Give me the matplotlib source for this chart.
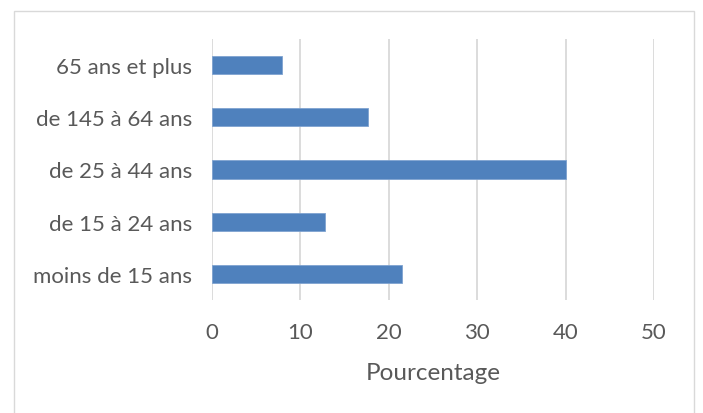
import matplotlib
matplotlib.use('Agg')
import matplotlib.pyplot as plt
from matplotlib.patches import Rectangle

# categories bottom -> top
categories = ['moins de 15 ans', 'de 15 à 24 ans', 'de 25 à 44 ans',
              'de 145 à 64 ans', '65 ans et plus']
values = [21.5, 12.8, 40.1, 17.6, 7.9]
xticks = [0, 10, 20, 30, 40, 50]

W, H = 703, 414
plt.rcParams['font.family'] = ['Lato', 'DejaVu Sans']

fig = plt.figure(figsize=(W / 100, H / 100), dpi=100)
# outer chart frame like excel
fig.patches.append(Rectangle((13.5 / W, -0.1), (694 - 13.5) / W, 1.1 - 12 / H,
                             transform=fig.transFigure, fill=False,
                             edgecolor='#D9D9D9', linewidth=1))

ax = fig.add_axes([212 / W, (H - 301) / H, (654 - 212) / W, (301 - 40) / H])
ax.barh(range(len(categories)), values, height=0.345, color='#4F81BD',
        edgecolor='#7FA3D0', linewidth=0.6, zorder=3)
ax.set_xlim(0, 50)
ax.set_ylim(-0.5, len(categories) - 0.5)
ax.set_xticks(xticks)
ax.set_xticklabels([str(t) for t in xticks])
ax.set_yticks(range(len(categories)))
ax.set_yticklabels(categories)
ax.grid(axis='x', color='#D9D9D9', linewidth=1.3, zorder=0)
for s in ax.spines.values():
    s.set_visible(False)
ax.tick_params(axis='both', length=0, labelsize=16, colors='#595959')
ax.tick_params(axis='x', pad=15.5)
ax.tick_params(axis='y', pad=14.5)
ax.set_xlabel('Pourcentage', fontsize=17.5, color='#595959', labelpad=15)

fig.savefig('out.png', dpi=100)
